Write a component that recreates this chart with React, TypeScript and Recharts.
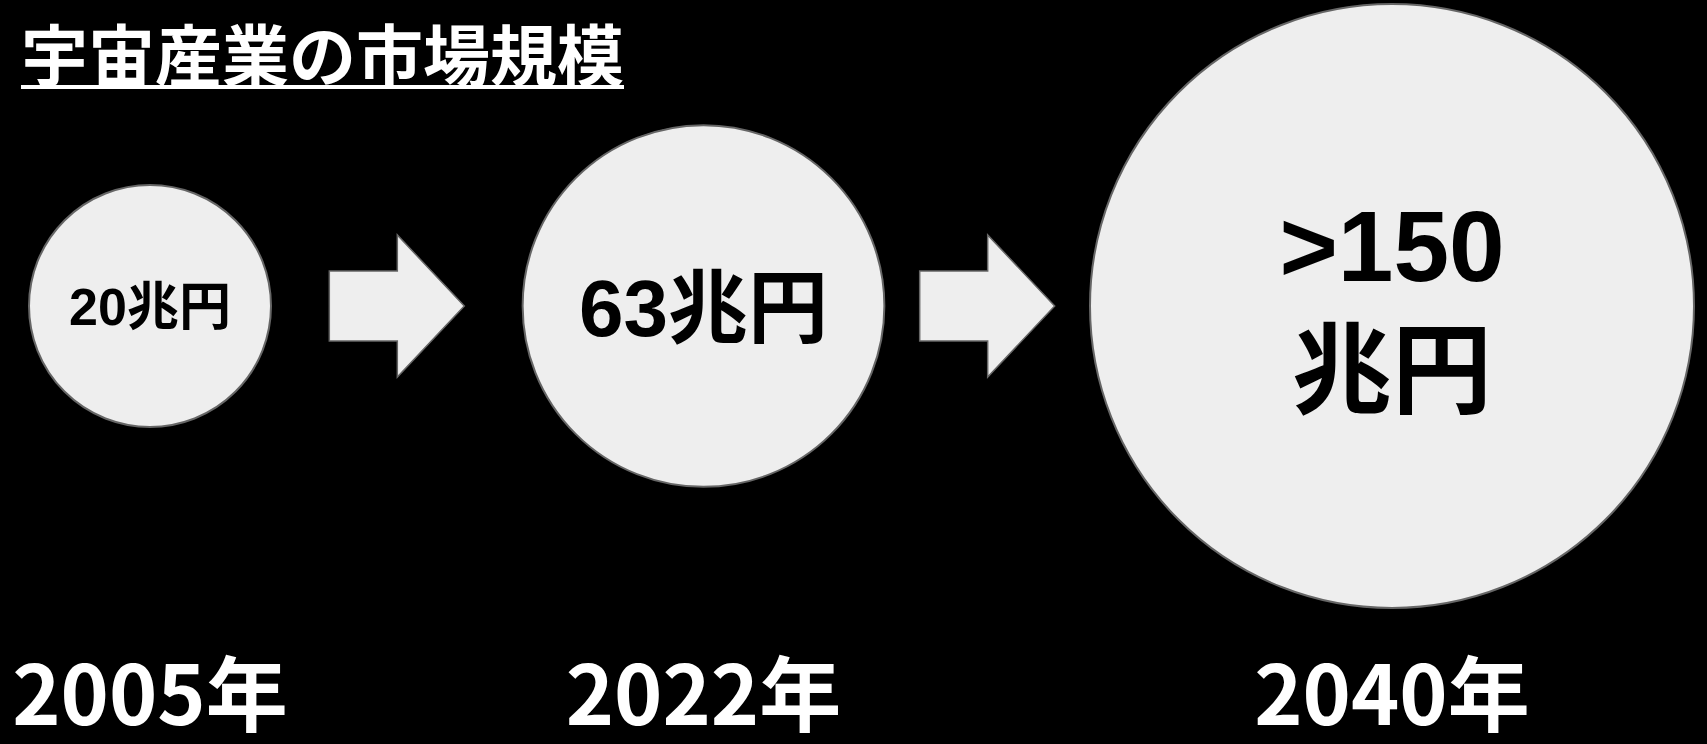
import React from "react";
import { ScatterChart, Scatter, XAxis, YAxis, ZAxis } from "recharts";

// 宇宙産業の市場規模 (兆円)
const title = "宇宙産業の市場規模";
const years = ["2005年", "2022年", "2040年"];
const marketSize = [20, 63, 150];
const sizeLabels = [["20兆円"], ["63兆円"], [">150", "兆円"]];

const data = marketSize.map((v, i) => ({ value: v, group: "market", year: years[i] }));

const labelFont = [52, 80, 100];
const FILL = "#eeeeee";
const EDGE = "#666666";
const LATIN = "'Liberation Sans', Arial, 'Noto Sans CJK JP', sans-serif";
const CJK = "'Noto Sans CJK JP', 'Noto Sans', sans-serif";

// right edge of the previous bubble, so the arrow sits in the gap
let lastRight = 0;

function Arrow({ from, to, cy }: { from: number; to: number; cy: number }) {
  const len = 135;
  const mid = (from + to) / 2;
  const x0 = mid - len / 2;
  const x1 = mid + len / 2;
  const hx = x1 - 67;
  const pts = [
    [x0, cy - 35],
    [hx, cy - 35],
    [hx, cy - 71],
    [x1, cy],
    [hx, cy + 71],
    [hx, cy + 35],
    [x0, cy + 35],
  ]
    .map((p) => p.join(","))
    .join(" ");
  return <polygon points={pts} fill={FILL} stroke={EDGE} strokeWidth={1.5} />;
}

function Bubble(props: any) {
  const { cx, cy, width, size, index } = props;
  // the z scale gives the radius directly here
  const r = typeof size === "number" ? size : width / 2;
  const prev = index === 0 ? null : lastRight;
  lastRight = cx + r;
  const lines = sizeLabels[index];
  const fs = labelFont[index];
  const lh = fs * 1.25;
  const first = cy + fs * 0.37 - ((lines.length - 1) * lh) / 2;
  return (
    <g>
      {prev !== null && <Arrow from={prev} to={cx - r} cy={cy} />}
      <circle cx={cx} cy={cy} r={r} fill={FILL} stroke={EDGE} strokeWidth={2} />
      {lines.map((t, i) => (
        <text
          key={i}
          x={cx}
          y={first + i * lh}
          textAnchor="middle"
          fontFamily={LATIN}
          fontWeight="bold"
          fontSize={fs}
          fill="#000"
        >
          {t}
        </text>
      ))}
    </g>
  );
}

function YearTick(props: any) {
  const { x, y, payload } = props;
  const i = marketSize.indexOf(payload.value);
  return (
    <text
      x={x}
      y={y + 113}
      textAnchor="middle"
      fontFamily={CJK}
      fontWeight="bold"
      fontSize={82}
      fill="#fff"
    >
      {years[i]}
    </text>
  );
}

export default function App() {
  return (
    <div style={{ position: "relative", width: 1707, height: 744, background: "#000", overflow: "hidden" }}>
      <style>{`body{margin:0;background:#000;}`}</style>
      <ScatterChart width={1707} height={744} margin={{ top: 0, right: 315, bottom: 0, left: 150 }}>
        <XAxis
          type="number"
          dataKey="value"
          scale="sqrt"
          domain={["dataMin", "dataMax"]}
          ticks={marketSize}
          interval={0}
          height={132}
          tickSize={0}
          tickMargin={0}
          axisLine={false}
          tickLine={false}
          tick={<YearTick />}
        />
        <YAxis type="category" dataKey="group" hide width={0} allowDuplicatedCategory={false} />
        <ZAxis type="number" dataKey="value" domain={["dataMin", "dataMax"]} range={[121, 302]} />
        <Scatter data={data} shape={<Bubble />} isAnimationActive={false} />
      </ScatterChart>
      <div
        style={{
          position: "absolute",
          left: 21,
          top: 18,
          fontFamily: CJK,
          fontWeight: "bold",
          fontSize: 67,
          lineHeight: "67px",
          color: "#fff",
        }}
      >
        <span style={{ display: "inline-block", borderBottom: "4px solid #fff" }}>{title}</span>
      </div>
    </div>
  );
}
